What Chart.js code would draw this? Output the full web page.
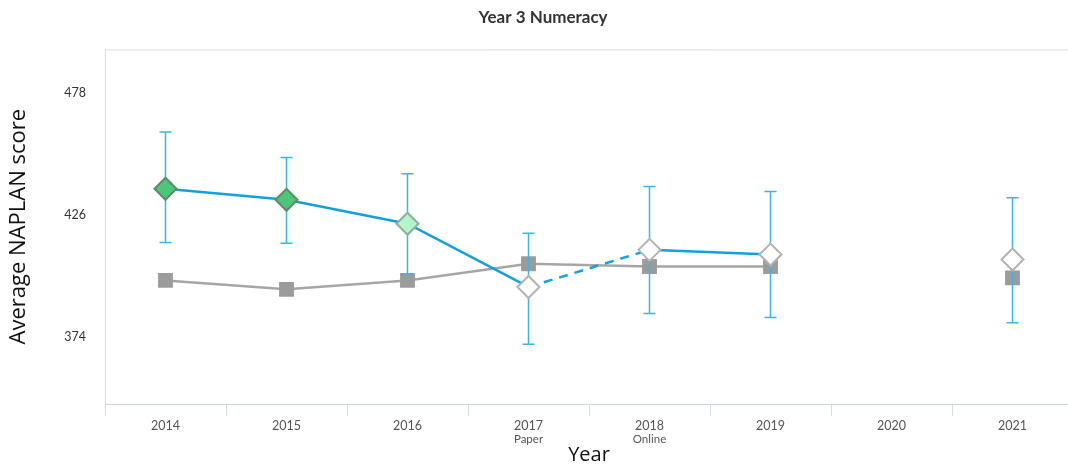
<!DOCTYPE html>
<html>
<head>
<meta charset="utf-8">
<script src="https://cdn.jsdelivr.net/npm/chart.js@4/dist/chart.umd.min.js"></script>
<style>
  html, body { margin: 0; padding: 0; background: #fff; overflow: hidden; }
</style>
</head>
<body>
<canvas id="chartNumeracy" width="1086" height="468"></canvas>
<script>
// chart values
var years = ['2014', '2015', '2016', '2017', '2018', '2019', '2020', '2021'];
var yearNotes = ['', '', '', 'Paper', 'Online', '', '', ''];
var schoolScore = [437.2, 432.5, 422.3, 395.4, 411.2, 409.2, null, 407.1];
var schoolUpper = [461.4, 450.5, 443.6, 418.3, 438.2, 436.0, null, 433.4];
var schoolLower = [414.3, 414.0, 401.0, 371.0, 384.1, 382.4, null, 380.2];
var compareScore = [398.2, 394.4, 398.2, 405.3, 404.1, 404.1, null, 399.3];
var schoolBand = ['above', 'above', 'slightly', 'none', 'none', 'none', 'none', 'none'];
var yTicks = [374, 426, 478];

var bandFill = { above: '#4cc678', slightly: '#b3f4ca', none: '#ffffff' };
var bandBorder = { above: '#5e8a68', slightly: '#8fb09a', none: '#b2b2b2' };

// whiskers, drawn just before the school series so the diamonds sit on top
var errorBars = {
    id: 'errorBars',
    beforeDatasetDraw: function(chart, args) {
        if (args.index !== 0) return;
        var ctx = chart.ctx, x = chart.scales.x, y = chart.scales.y;
        ctx.save();
        ctx.strokeStyle = '#3bb5e6';
        ctx.lineWidth = 1.5;
        schoolUpper.forEach(function(hi, i) {
            if (hi === null) return;
            var px = x.getPixelForValue(i);
            var top = y.getPixelForValue(hi), bot = y.getPixelForValue(schoolLower[i]);
            ctx.beginPath();
            ctx.moveTo(px, top); ctx.lineTo(px, bot);
            ctx.moveTo(px - 6, top); ctx.lineTo(px + 6, top);
            ctx.moveTo(px - 6, bot); ctx.lineTo(px + 6, bot);
            ctx.stroke();
        });
        ctx.restore();
    }
};

// light line along the top of the plot and the small second line under some years
var frameAndNotes = {
    id: 'frameAndNotes',
    beforeDatasetsDraw: function(chart) {
        var a = chart.chartArea, ctx = chart.ctx;
        ctx.save();
        ctx.strokeStyle = '#d9dbe0';
        ctx.lineWidth = 1;
        ctx.beginPath();
        ctx.moveTo(a.left, a.top + 0.5);
        ctx.lineTo(a.right, a.top + 0.5);
        ctx.stroke();
        ctx.restore();
    },
    afterDraw: function(chart) {
        var ctx = chart.ctx, x = chart.scales.x;
        ctx.save();
        ctx.font = '11.5px Lato';
        ctx.fillStyle = '#555';
        ctx.textAlign = 'center';
        ctx.textBaseline = 'middle';
        yearNotes.forEach(function(n, i) {
            if (n) ctx.fillText(n, x.getPixelForValue(i), 439);
        });
        ctx.restore();
    }
};

var ctx = document.getElementById('chartNumeracy');
var myChartNumeracy = new Chart(ctx, {
    type: 'line',
    data: {
        labels: years,
        datasets: [{
            label: 'School',
            data: schoolScore,
            borderColor: '#14a0dc',
            borderWidth: 2.5,
            pointStyle: 'rectRot',
            pointRadius: 11,
            pointHoverRadius: 11,
            pointBorderWidth: 2,
            pointBackgroundColor: schoolBand.map(function(b) { return bandFill[b]; }),
            pointBorderColor: schoolBand.map(function(b) { return bandBorder[b]; }),
            spanGaps: false,
            segment: {
                // paper to online change is dashed
                borderDash: function(c) { return c.p0DataIndex === 3 ? [9, 7] : undefined; }
            }
        }, {
            label: 'Comparison',
            data: compareScore,
            borderColor: '#a6a6a6',
            borderWidth: 2.5,
            pointStyle: 'rect',
            pointRadius: 10.5,
            pointHoverRadius: 10.5,
            pointBorderWidth: 0,
            pointBackgroundColor: '#9b9b9b',
            spanGaps: false
        }]
    },
    plugins: [errorBars, frameAndNotes],
    options: {
        responsive: false,
        animation: false,
        layout: { padding: 0 },
        plugins: {
            legend: { display: false },
            tooltip: { enabled: false },
            title: {
                display: true,
                text: 'Year 3 Numeracy',
                color: '#333',
                font: { family: 'Lato', size: 17, weight: 'bold' },
                padding: { top: 7, bottom: 22 }
            }
        },
        scales: {
            x: {
                offset: true,
                grid: {
                    offset: true,
                    drawOnChartArea: false,
                    drawTicks: true,
                    tickLength: 12,
                    color: '#d5dcea'
                },
                border: { display: true, color: '#cdd5e5' },
                ticks: {
                    color: '#555',
                    font: { family: 'Lato', size: 12.5 },
                    padding: 2,
                    maxRotation: 0
                },
                title: {
                    display: true,
                    text: 'Year',
                    color: '#111',
                    font: { family: 'Open Sans', size: 20 },
                    padding: { top: 0, bottom: 1 }
                },
                afterFit: function(scale) { scale.height = 64; }
            },
            y: {
                min: 345.6,
                max: 496.5,
                afterBuildTicks: function(scale) {
                    scale.ticks = yTicks.map(function(v) { return { value: v }; });
                },
                grid: { display: false },
                border: { display: true, color: '#d5dcea' },
                ticks: {
                    color: '#333',
                    font: { family: 'Lato', size: 12.5 },
                    padding: 11
                },
                title: {
                    display: true,
                    text: 'Average NAPLAN score',
                    color: '#111',
                    font: { family: 'Open Sans', size: 22 },
                    padding: { top: 6, bottom: 0 }
                },
                afterFit: function(scale) { scale.width = 105; }
            }
        }
    }
});
</script>
</body>
</html>
